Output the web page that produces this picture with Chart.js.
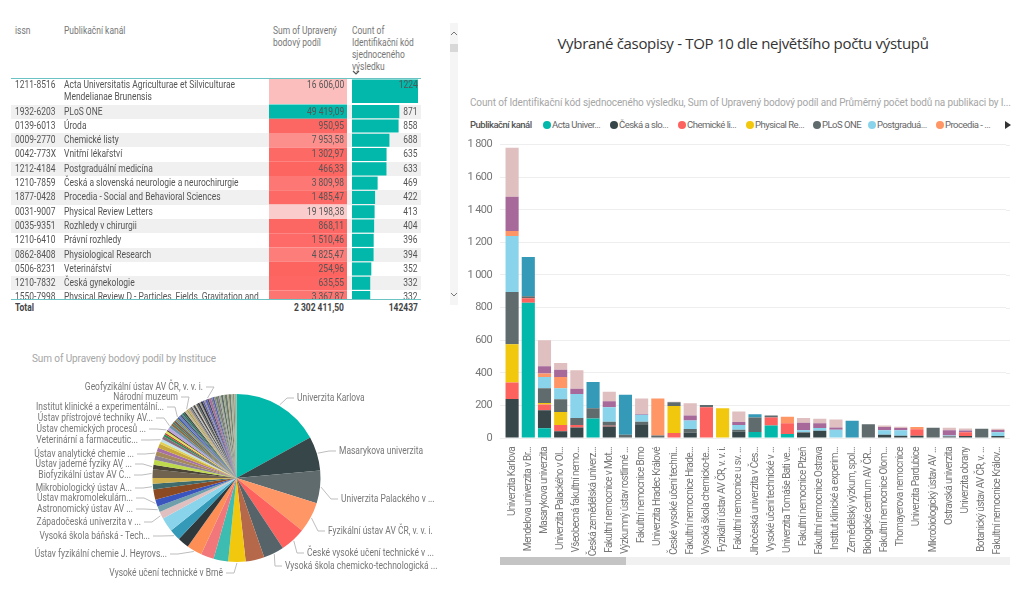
<!DOCTYPE html>
<html lang="cs"><head><meta charset="utf-8"><title>Vybrané časopisy</title>
<script src="https://cdn.jsdelivr.net/npm/chart.js@4"></script>
<style>
html,body{margin:0;padding:0;background:#fff;width:1018px;height:591px;overflow:hidden}
body{font-family:Roboto,sans-serif;color:#666}
.abs{position:absolute}
canvas{position:absolute;display:block}
#rows{position:absolute;left:11px;top:78px;width:410px;height:221px;overflow:hidden;z-index:1}
.row{position:absolute;left:0;width:410px;font-size:11px;line-height:12px;color:#555}
.row span{position:absolute;top:1px;white-space:nowrap}
.sl{transform:scaleX(.77);transform-origin:left top}
.sr{transform:scaleX(.77);transform-origin:right top}
.over{position:absolute;left:11px;top:78px;width:410px;height:221px;overflow:hidden;z-index:3}
.hd{position:absolute;font-size:11px;line-height:12px;color:#777;top:25px;white-space:nowrap}
</style></head><body>
<div id="rows"></div>
<canvas id="sumCells" class="abs" style="left:269px;top:78px;width:78px;height:221px;z-index:2"></canvas>
<canvas id="countBars" class="abs" style="left:351.7px;top:78px;width:66.6px;height:221px;z-index:2"></canvas>
<div class="over" id="rowText"></div>
<div class="hd sl" style="left:15px">issn</div>
<div class="hd sl" style="left:64px">Publikační kanál</div>
<div class="hd sl" style="left:273px">Sum of Upravený<br>bodový podíl</div>
<div class="hd sl" style="left:352px">Count of<br>Identifikační kód<br>sjednoceného<br>výsledku</div>
<svg class="abs" style="left:352px;top:70px" width="8" height="6"><path d="M1 1 L4 4 L7 1" fill="none" stroke="#555" stroke-width="1.2"/></svg>
<div class="abs" style="left:11px;top:77.5px;width:410px;height:1.2px;background:#6cc3c4;z-index:4"></div>
<div class="abs" style="left:11px;top:299px;width:410px;height:1.2px;background:#6cc3c4;z-index:4"></div>
<div class="abs sl" id="totLabel" style="left:15px;top:301px;font-size:11px;font-weight:bold;color:#444">Total</div>
<div class="abs sr" id="totSum" style="right:674px;top:301px;font-size:11px;font-weight:bold;color:#444"></div>
<div class="abs sr" id="totCount" style="right:600px;top:301px;font-size:11px;font-weight:bold;color:#444"></div>
<div class="abs" style="left:450px;top:23px;width:8px;height:282px;background:#f5f5f5"></div>
<div class="abs" style="left:450px;top:44px;width:8px;height:8px;background:#d8d8d8"></div>
<svg class="abs" style="left:450px;top:30px" width="8" height="6"><path d="M1 5 L4 2 L7 5" fill="none" stroke="#777" stroke-width="1"/></svg>
<svg class="abs" style="left:450px;top:292px" width="8" height="6"><path d="M1 1 L4 4 L7 1" fill="none" stroke="#777" stroke-width="1"/></svg>

<div class="abs" style="left:32px;top:353px;font:10px Roboto,sans-serif;letter-spacing:-.1px;color:#a6a6a6;white-space:nowrap">Sum of Upravený bodový podíl by Instituce</div>
<canvas id="pie" style="left:0;top:345px;width:460px;height:245px"></canvas>

<div class="abs" style="left:460px;width:566px;top:33px;text-align:center;font:15px 'Open Sans',sans-serif;letter-spacing:-.3px;color:#333">Vybrané časopisy - TOP 10 dle největšího počtu výstupů</div>
<div class="abs" style="left:470px;top:97px;font:10px Roboto,sans-serif;letter-spacing:-.135px;color:#a6a6a6;white-space:nowrap">Count of Identifikační kód sjednoceného výsledku, Sum of Upravený bodový podíl and Průměrný počet bodů na publikaci by I...</div>
<div class="abs" style="left:470px;top:119px;font:500 9.5px Roboto,sans-serif;letter-spacing:-.5px;color:#555;white-space:nowrap">Publikační kanál</div>
<div id="legend"></div>
<svg class="abs" style="left:1004px;top:120px" width="8" height="10"><path d="M1 1 L7 5 L1 9 Z" fill="#333"/></svg>
<canvas id="bars" style="left:460px;top:130px;width:558px;height:430px"></canvas>
<div class="abs" style="left:500px;top:557px;width:510px;height:8px;background:#f1f1f1"></div>
<div class="abs" style="left:500px;top:557px;width:126px;height:8px;background:#c4c4c4"></div>

<script>
// ---------- table ----------
const issn = ["1211-8516","1932-6203","0139-6013","0009-2770","0042-773X","1212-4184","1210-7859","1877-0428","0031-9007","0035-9351","1210-6410","0862-8408","0506-8231","1210-7832","1550-7998"];
const channels = ["Acta Universitatis Agriculturae et Silviculturae Mendelianae Brunensis","PLoS ONE","Úroda","Chemické listy","Vnitřní lékařství","Postgraduální medicína","Česká a slovenská neurologie a neurochirurgie","Procedia - Social and Behavioral Sciences","Physical Review Letters","Rozhledy v chirurgii","Právní rozhledy","Physiological Research","Veterinářství","Česká gynekologie","Physical Review D - Particles, Fields, Gravitation and Cosmology"];
const sums = [16606.00,49419.09,950.95,7953.58,1302.97,466.33,3809.98,1485.47,19198.38,868.11,1510.46,4825.47,254.96,635.55,3367.87];
const counts = [1224,871,858,688,635,633,469,422,413,404,396,394,352,332,332];
const totalSum = 2302411.50, totalCount = 142437;

// ---------- stacked bars ----------
const institutions = ["Univerzita Karlova","Mendelova univerzita v Br...","Masarykova univerzita","Univerzita Palackého v Ol...","Všeobecná fakultní nemo...","Česká zemědělská univerz...","Fakultní nemocnice v Mot...","Výzkumný ústav rostlinné ...","Fakultní nemocnice Brno","Univerzita Hradec Králové","České vysoké učení techni...","Fakultní nemocnice Hrade...","Vysoká škola chemicko-te...","Fyzikální ústav AV ČR, v. v. i.","Fakultní nemocnice u sv. ...","Jihočeská univerzita v Čes...","Vysoké učení technické v ...","Univerzita Tomáše Bati ve...","Fakultní nemocnice Plzeň","Fakultní nemocnice Ostrava","Institut klinické a experim...","Zemědělský výzkum, spol...","Biologické centrum AV ČR...","Fakultní nemocnice Olom...","Thomayerova nemocnice","Univerzita Pardubice","Mikrobiologický ústav AV ...","Ostravská univerzita","Univerzita obrany","Botanický ústav AV ČR, v. ...","Fakultní nemocnice Králov..."];
const acta     = [0,830,60,0,0,120,0,0,0,0,0,0,0,0,0,37,77,24,0,0,0,0,0,0,0,0,0,0,0,0,0];
const ceska    = [240,0,110,42,65,0,70,0,85,0,0,34,0,0,38,0,0,0,30,45,3,0,0,20,14,14,0,0,12,0,12];
const chemicke = [100,28,35,38,15,0,5,0,0,0,30,0,189,0,0,0,49,67,0,0,0,0,0,0,0,39,0,0,24,0,0];
const physical = [235,0,10,80,0,0,0,0,0,0,167,0,0,183,0,0,0,0,0,0,0,0,0,0,0,0,0,0,0,0,0];
const plos     = [320,12,90,77,42,62,25,20,15,16,22,21,14,0,12,89,12,0,5,0,0,3,85,0,0,0,63,10,0,57,0];
const postgrad = [345,0,70,68,148,0,88,0,42,0,0,52,0,0,30,0,0,0,12,16,47,0,0,27,33,0,0,6,0,0,24];
const procedia = [30,0,20,70,0,0,0,0,0,227,0,0,0,0,0,0,0,39,0,0,0,0,0,0,0,14,0,0,0,0,0];
const rozhledy = [210,0,45,43,32,0,37,0,6,0,0,31,0,0,18,0,0,0,46,30,15,0,0,20,14,0,0,31,10,0,13];
const uroda    = [0,240,0,0,0,161,0,245,0,0,0,0,0,0,0,20,0,0,0,0,0,103,0,0,0,0,0,0,0,0,0];
const vnitrni  = [300,0,160,42,113,0,58,0,95,0,4,75,0,0,64,0,0,0,29,27,49,0,0,10,8,0,0,16,13,0,8];
const seriesNames = ["Acta Univer...","Česká a slo...","Chemické li...","Physical Re...","PLoS ONE","Postgraduá...","Procedia - ...","Rozhledy v ...","Úroda","Vnitřní lék..."];
const seriesValues = [acta,ceska,chemicke,physical,plos,postgrad,procedia,rozhledy,uroda,vnitrni];
const seriesColors = ["#01B8AA","#374649","#FD625E","#F2C80F","#5F6B6D","#8AD4EB","#FE9666","#A66999","#3599B8","#DFBFBF"];
const legendX = [543,610,678,746,813,868,936];
const barTicks = [0,200,400,600,800,1000,1200,1400,1600,1800];

// ---------- pie ----------
const pieValues = [392000,151600,144500,136900,113200,91500,83100,76700,65200,57600,67800,50500,50500,63300,32000,25600,32000,44800,25600,25600,38400,19200,22400,19200,19200,16000,19200,10900,12800,12800,10900,6400,9600,6400,12800,12800,10200,7700,
 9000,6500,8000,7000,9500,6000,5500,8500,7000,9000,6000,7500,8200,5500,7000,9000,6000,7500,8000,6500,9000,7000,6000,8500,7000,10500,6000,8000,7500,9500,6500,8000,9000,7500,11000,7000,9500,8500,7000,9000];
const pieColors = ["#01B8AA","#374649","#5F6B6D","#FE9666","#FD625E","#56646A","#B5694A","#F2C80F","#3DBDB1","#F2777A","#FD8F56","#2F393B","#3599B8","#8AD4EB","#DFBFBF","#6E9FAA","#3B55BF","#8C4A22","#3F6B6D","#D2B24C","#6F6350","#4A4436","#BFD94D","#8F8296","#A6895A","#A66FA6","#C9A93A","#E3CF52","#BFE0E8","#8A6D7D","#2E8B57","#C0392B","#DDE35A","#5A3B22","#B9A5DC","#6E93A8","#8B6B3D","#4C7A6A",
 "#7E5A3A","#5F8FA8","#8F8A4A","#3B5BA5","#6D7FBF","#2F3B5F","#4F7F7F","#2F6F5F","#3A4A3F","#C9B79A","#9FA24F","#C7A679","#8F8F8F","#3F3F3F","#BDBDBD","#4A4A4A","#CFC0B0","#5F6B6D","#3F3F3F","#9A9A9A","#3A3A3A","#6060A8","#8F8F8F","#5D5FB8","#4A4F55","#A66FA0","#7A7F7A","#5A5FB0","#8A9080","#70806A","#7F7488","#A0B090","#5F6B6D","#9DAA8A","#6E7A6E","#B5AE90","#6F7F70","#A8B498","#8A9080","#A9B098"];
const pieLabels = {0:"Univerzita Karlova",1:"Masarykova univerzita",2:"Univerzita Palackého v ...",3:"Fyzikální ústav AV ČR, v. v. i.",4:"České vysoké učení technické v ...",5:"Vysoká škola chemicko-technologická ...",7:"Vysoké učení technické v Brně",10:"Ústav fyzikální chemie J. Heyrovs...",12:"Vysoká škola báňská - Tech...",14:"Západočeská univerzita v ...",15:"Astronomický ústav AV ...",16:"Ústav makromolekulárn...",18:"Mikrobiologický ústav A...",20:"Biofyzikální ústav AV Č...",21:"Ústav jaderné fyziky AV ...",24:"Ústav analytické chemie ...",28:"Veterinární a farmaceutic...",33:"Ústav chemických procesů ...",35:"Ústav přístrojové techniky AV...",41:"Institut klinické a experimentální...",48:"Národní muzeum",62:"Geofyzikální ústav AV ČR, v. v. i."};
// label anchors in page pixels: [x, y, side]
const pieLabelPlace = {0:[297,398,"l"],1:[339,451,"l"],2:[341,499,"l"],3:[328,531,"l"],4:[307,553,"l"],5:[285,566,"l"],7:[223,573,"r"],10:[167,554,"r"],12:[150,536,"r"],14:[141,522,"r"],15:[133,509,"r"],16:[133,498,"r"],18:[132,488,"r"],20:[131,475,"r"],21:[132,464,"r"],24:[134,454,"r"],28:[138,440,"r"],33:[146,429,"r"],35:[153,418,"r"],41:[164,407,"r"],48:[178,397,"r"],62:[203,387,"r"]};

// ---------- helpers ----------
const fmtNum = (v,d)=>{const s=v.toFixed(d).split('.');s[0]=s[0].replace(/\B(?=(\d{3})+(?!\d))/g,' ');return d?s.join(','):s[0];};
const mix=(a,b,t)=>'rgb('+a.map((c,i)=>Math.round(c+(b[i]-c)*t)).join(',')+')';
const heatColor=v=>{const mid=24700,red=[253,98,94],white=[250,235,235],teal=[1,184,170];return v<mid?mix(red,white,v/mid):mix(white,teal,(v-mid)/(49419-mid));};
const ROW=14.3, firstRow=26.5;
const rowTop=i=>i===0?0:firstRow+(i-1)*ROW;
const rowH=i=>i===0?firstRow:ROW;

// table text
const rowsEl=document.getElementById('rows'), textEl=document.getElementById('rowText');
issn.forEach((v,i)=>{
  if(i%2===1){const b=document.createElement('div');b.className='row';b.style.cssText+=`top:${rowTop(i)}px;height:${rowH(i)}px;background:#f0f0f0`;rowsEl.appendChild(b);}
  const r=document.createElement('div');r.className='row';r.style.cssText+=`top:${rowTop(i)}px;height:${rowH(i)}px`;
  r.innerHTML=`<span class="sl" style="left:4px">${v}</span><span class="sl" style="left:53px;width:254px;white-space:normal">${channels[i]}</span><span class="sr" style="right:77px">${fmtNum(sums[i],2)}</span><span class="sr" style="right:3px">${counts[i]}</span>`;
  textEl.appendChild(r);
});
document.getElementById('totSum').textContent=fmtNum(totalSum,2);
document.getElementById('totCount').textContent=String(totalCount);

// legend
const legendEl=document.getElementById('legend');
legendX.forEach((x,i)=>{
  const d=document.createElement('div');d.className='abs';d.style.cssText=`left:${x}px;top:121px;width:8px;height:8px;border-radius:50%;background:${seriesColors[i]}`;legendEl.appendChild(d);
  const t=document.createElement('div');t.className='abs';t.style.cssText=`left:${x+9}px;top:119px;font:9.5px Roboto,sans-serif;letter-spacing:-.5px;color:#666;white-space:nowrap`;t.textContent=seriesNames[i];legendEl.appendChild(t);
});

Chart.defaults.animation=false;
Chart.defaults.plugins.legend.display=false;
Chart.defaults.plugins.tooltip.enabled=false;

function rowChart(id,xMax,values,colors,t1,t2){
  const pts=values.map((v,i)=>({x:v,y:(rowTop(i)+rowH(i)/2)/ROW}));
  return new Chart(document.getElementById(id),{type:'bar',data:{datasets:[
    {data:pts.slice(0,1),backgroundColor:colors.slice(0,1),barThickness:t1,grouped:false},
    {data:pts.slice(1),backgroundColor:colors.slice(1),barThickness:t2,grouped:false}]},
   options:{indexAxis:'y',responsive:false,layout:{padding:0},
    scales:{x:{type:'linear',display:false,min:0,max:xMax},y:{type:'linear',display:false,offset:false,min:0,max:221/ROW,reverse:true}}}});
}
rowChart('sumCells',1,sums.map(()=>1),sums.map(heatColor),25,13.6);
rowChart('countBars',1224,counts,counts.map(()=>'#01B8AA'),23,12.4);

// narrower axis lettering; gridlines run a little past the last bar
const tightText={id:'tightText',
  beforeDraw(c){c.ctx.letterSpacing='-0.6px';
    const a=c.chartArea,y=c.scales.y;c.ctx.save();c.ctx.strokeStyle='#eeeeee';c.ctx.lineWidth=1;
    barTicks.forEach(v=>{const p=Math.round(y.getPixelForValue(v))+.5;c.ctx.beginPath();c.ctx.moveTo(a.right,p);c.ctx.lineTo(a.right+4,p);c.ctx.stroke();});
    c.ctx.restore();}};
// stacked chart
new Chart(document.getElementById('bars'),{type:'bar',plugins:[tightText],
 data:{labels:institutions,datasets:seriesValues.map((d,i)=>({label:seriesNames[i],data:d,backgroundColor:seriesColors[i],stack:'s',barPercentage:.9,categoryPercentage:.9}))},
 options:{responsive:false,layout:{padding:{top:12,right:12,left:0,bottom:0}},
  scales:{
   x:{stacked:true,grid:{display:false},border:{display:false},afterFit(s){s.height=122;},
      ticks:{autoSkip:false,minRotation:90,maxRotation:90,padding:1,color:'#777',font:{family:'Roboto,sans-serif',size:10}}},
   y:{stacked:true,min:0,max:1800,afterFit(s){s.width=44;},afterBuildTicks(s){s.ticks=barTicks.map(v=>({value:v}));},
      grid:{color:'#eeeeee',tickLength:4,tickColor:'#eeeeee'},border:{display:false},
      ticks:{padding:8,color:'#777',font:{family:'Roboto,sans-serif',size:11},callback:v=>fmtNum(v,0)}}
  }}});

// pie
const callouts={id:'callouts',afterDatasetsDraw(c){
  const ctx=c.ctx,top=c.canvas.getBoundingClientRect().top,arcs=c.getDatasetMeta(0).data,sx=.77;
  ctx.save();ctx.font='11px Roboto,sans-serif';ctx.textBaseline='middle';
  Object.keys(pieLabels).forEach(k=>{
    const a=arcs[k],[x,yy,side]=pieLabelPlace[k],y=yy-top,mid=(a.startAngle+a.endAngle)/2,R=a.outerRadius+1;
    const px=a.x+Math.cos(mid)*R,py=a.y+Math.sin(mid)*R;
    const ex=side==='l'?x-3:x+3, bx=side==='l'?ex-7:ex+8;
    ctx.strokeStyle='#bdbdbd';ctx.lineWidth=1;ctx.beginPath();ctx.moveTo(px,py);ctx.lineTo(bx,y);ctx.lineTo(ex,y);ctx.stroke();
    ctx.fillStyle='#777';ctx.textAlign=side==='l'?'left':'right';
    ctx.save();ctx.translate(x,y);ctx.scale(sx,1);ctx.fillText(pieLabels[k],0,0);ctx.restore();
  });ctx.restore();
}};
new Chart(document.getElementById('pie'),{type:'pie',plugins:[callouts],
 data:{labels:pieValues.map((_,i)=>pieLabels[i]||''),datasets:[{data:pieValues,backgroundColor:pieColors,borderWidth:0}]},
 options:{responsive:false,layout:{padding:{left:152.5,right:139.5,top:49,bottom:28}}}});
</script>
</body></html>
